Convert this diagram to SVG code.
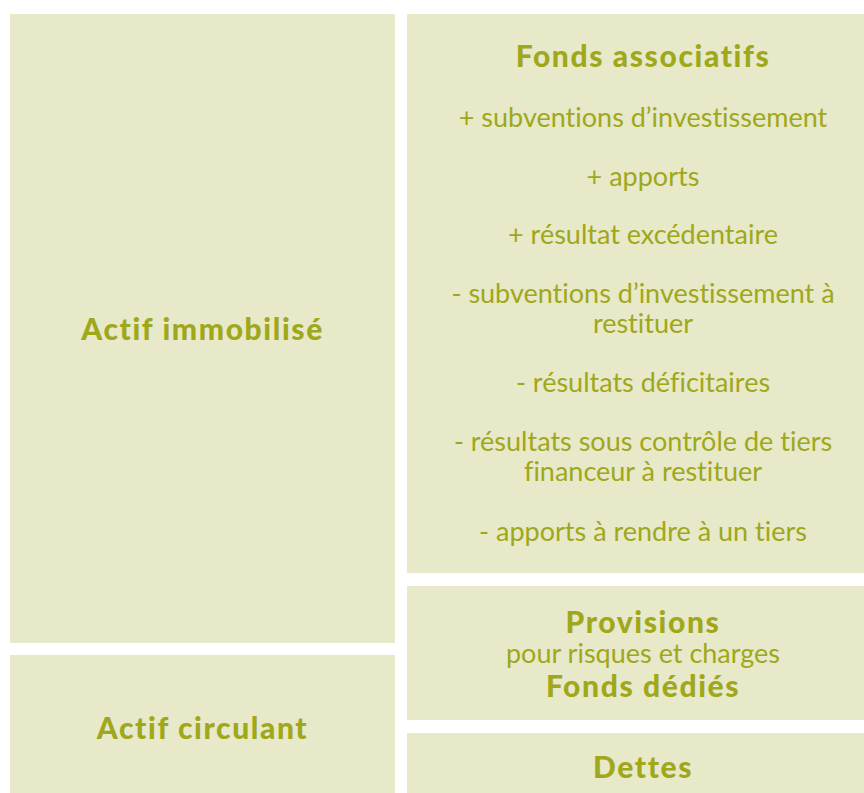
<svg xmlns="http://www.w3.org/2000/svg" width="864" height="793" viewBox="0 0 864 793">
<style>
rect{fill:#e8e9c9}
text{fill:#9ea81a;font-family:"Lato","Liberation Sans",sans-serif;text-anchor:middle;font-variant-ligatures:none}
.b{font-weight:900;font-size:30px;letter-spacing:1.6px}
.r{font-size:27px;font-weight:400}
</style>
<rect width="864" height="793" style="fill:#fff"/>
<g id="actif-immobilise">
<rect x="10" y="14" width="385" height="629"/>
<text class="b" x="202.5" y="340">Actif immobilisé</text>
</g>
<g id="actif-circulant">
<rect x="10" y="655" width="385" height="138"/>
<text class="b" x="202.5" y="739">Actif circulant</text>
</g>
<g id="fonds-associatifs">
<rect x="407" y="14" width="457" height="559"/>
<text class="b" x="643" y="67">Fonds associatifs</text>
<text class="r" x="643" y="127">+ subventions d’investissement</text>
<text class="r" x="643" y="186">+ apports</text>
<text class="r" x="643" y="244">+ résultat excédentaire</text>
<text class="r" x="643" y="303">- subventions d’investissement à</text>
<text class="r" x="643" y="333">restituer</text>
<text class="r" x="643" y="392">- résultats déficitaires</text>
<text class="r" x="643" y="451">- résultats sous contrôle de tiers</text>
<text class="r" x="643" y="481">financeur à restituer</text>
<text class="r" x="643" y="541">- apports à rendre à un tiers</text>
</g>
<g id="provisions">
<rect x="407" y="586" width="457" height="134"/>
<text class="b" x="643" y="633">Provisions</text>
<text class="r" x="643" y="663">pour risques et charges</text>
<text class="b" x="643" y="697">Fonds dédiés</text>
</g>
<g id="dettes">
<rect x="407" y="733" width="457" height="60"/>
<text class="b" x="643" y="778">Dettes</text>
</g>
<g id="connectors"/>
</svg>
